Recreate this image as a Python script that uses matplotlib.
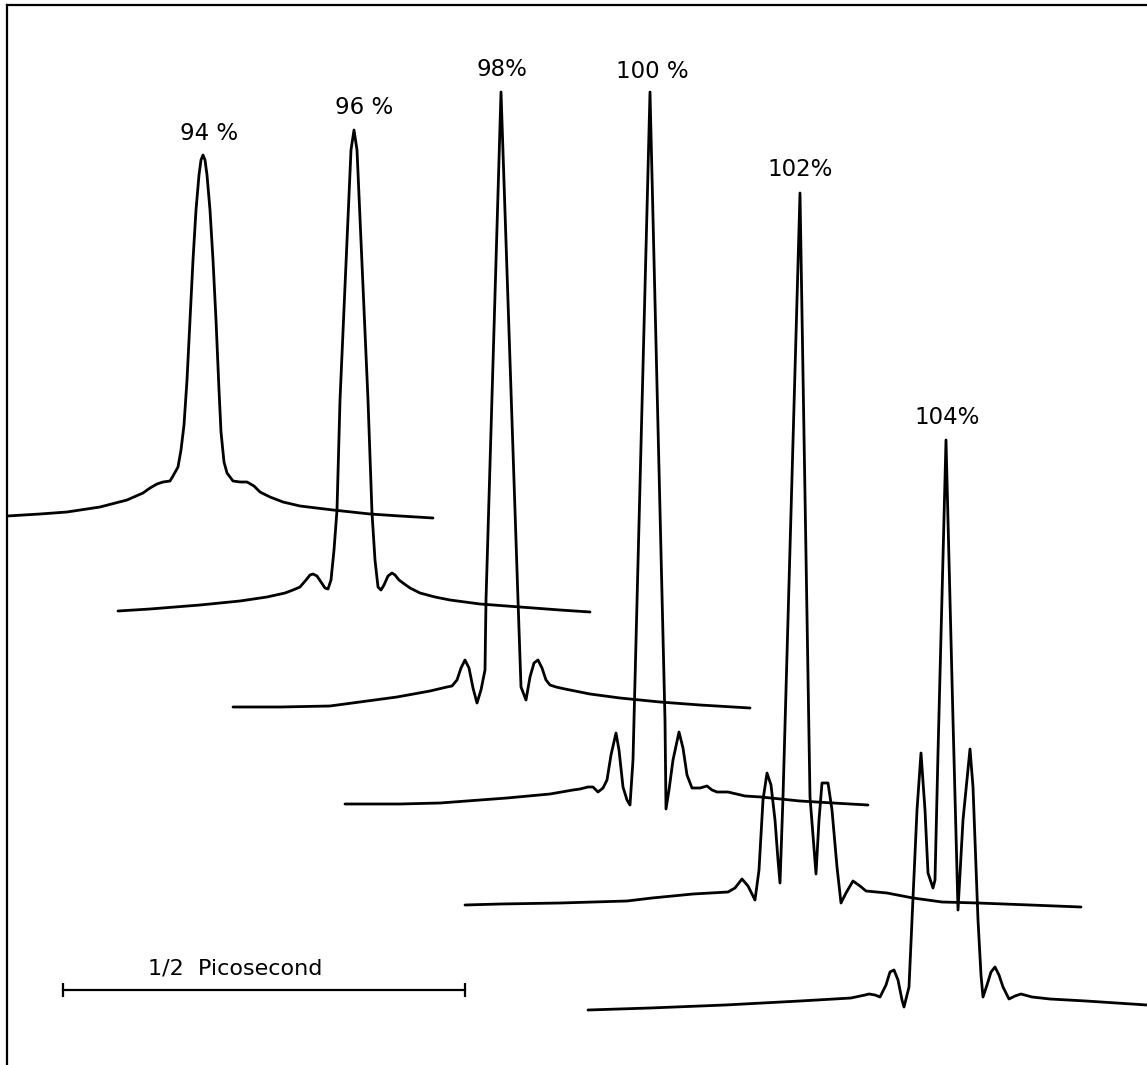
import matplotlib
matplotlib.use("Agg")
import matplotlib.pyplot as plt

# pulse traces (horizontal = time, vertical = offset intensity,
# same units as the picture, y grows downward)
labels = ["94 %", "96 %", "98%", "100 %", "102%", "104%"]
label_x = [209, 364, 502, 652, 800, 947]
label_y = [133, 108, 70, 72, 170, 418]

x94 = [7, 40, 67, 100, 127, 143, 150, 157, 163, 170, 173, 178, 181, 184, 187, 190, 193, 196,
       199, 201, 203, 205, 207, 210, 213, 216, 219, 221, 224, 227, 233, 240, 247, 254, 260, 270,
       283, 300, 333, 370, 400, 433]
y94 = [516, 514, 512, 507, 500, 493, 488, 484, 482, 481, 476, 467, 450, 425, 380, 320, 260, 210,
       175, 160, 155, 160, 175, 210, 260, 320, 390, 432, 462, 473, 481, 482, 482, 486, 492, 497,
       502, 506, 510, 514, 516, 518]

x96 = [118, 150, 200, 240, 267, 285, 293, 300, 306, 310, 313, 317, 321, 325, 328, 331, 334, 337,
       340, 351, 354, 357, 368, 372, 375, 378, 381, 384, 388, 392, 395, 399, 403, 410, 420, 435,
       450, 480, 520, 560, 590]
y96 = [611, 609, 605, 601, 597, 593, 590, 587, 580, 575, 574, 576, 582, 588, 589, 580, 550, 510,
       400, 150, 130, 150, 400, 513, 560, 587, 590, 585, 576, 573, 575, 580, 583, 588, 593, 597,
       600, 604, 607, 610, 612]

x98 = [233, 280, 330, 397, 430, 447, 452, 457, 461, 465, 469, 473, 477, 481, 485, 486, 501, 518,
       521, 526, 530, 534, 538, 542, 546, 550, 556, 565, 590, 620, 660, 700, 750]
y98 = [707, 707, 706, 697, 691, 687, 686, 680, 668, 660, 668, 688, 703, 690, 670, 600, 92, 600,
       687, 700, 677, 663, 660, 668, 680, 685, 687, 689, 694, 698, 702, 705, 708]

x100 = [345, 400, 440, 507, 550, 573, 580, 588, 593, 598, 603, 607, 611, 616, 619, 623, 627, 630,
        633, 634, 650, 665, 666, 669, 673, 679, 683, 687, 692, 700, 707, 712, 717, 728, 745, 761,
        800, 833, 868]
y100 = [804, 804, 803, 798, 794, 790, 789, 787, 787, 792, 788, 780, 755, 733, 750, 787, 800, 805,
        760, 720, 92, 720, 809, 790, 760, 732, 748, 775, 788, 788, 786, 790, 792, 792, 796, 797,
        801, 803, 805]

x102 = [465, 500, 560, 627, 652, 693, 728, 735, 742, 748, 755, 759, 763, 767, 771, 775, 778, 780,
        783, 800, 810, 816, 819, 822, 828, 832, 837, 841, 846, 853, 860, 866, 887, 913, 942, 978,
        1030, 1081]
y102 = [905, 904, 903, 901, 898, 894, 892, 888, 879, 886, 900, 870, 800, 773, 785, 820, 860, 883,
        797, 193, 797, 874, 820, 783, 783, 810, 867, 903, 893, 881, 886, 891, 893, 898, 902, 903,
        905, 907]

x104 = [588, 650, 725, 800, 851, 865, 869, 875, 880, 886, 890, 894, 898, 902, 904, 909, 913, 917,
        921, 925, 928, 933, 935, 938, 946, 953, 958, 963, 970, 973, 978, 981, 983, 987, 991, 995,
        999, 1003, 1009, 1015, 1021, 1032, 1050, 1086, 1147]
y104 = [1010, 1008, 1005, 1001, 998, 995, 994, 995, 997, 985, 972, 970, 980, 1000, 1007, 987, 898,
        810, 753, 810, 873, 888, 880, 753, 440, 720, 910, 820, 749, 787, 920, 975, 997, 985, 972,
        967, 975, 987, 999, 996, 994, 997, 999, 1001, 1005]

traces = [(x94, y94), (x96, y96), (x98, y98), (x100, y100), (x102, y102), (x104, y104)]

# half-picosecond scale bar
bar_x = [63, 465]
bar_y = [990, 990]

fig = plt.figure(figsize=(11.47, 10.65), dpi=100)
ax = fig.add_axes([7 / 1147, 0, 1 - 7 / 1147, 1 - 5 / 1065])
ax.set_xlim(7, 1147)
ax.set_ylim(1065, 5)

for (xs, ys), lab, lx, ly in zip(traces, labels, label_x, label_y):
    ax.plot(xs, ys, color='black', lw=2.0, solid_joinstyle='round', solid_capstyle='round')
    ax.text(lx, ly, lab, ha='center', va='center', fontsize=16.5, color='black')

ax.plot(bar_x, bar_y, color='black', lw=1.6)
ax.plot(bar_x, bar_y, ls='none', marker='|', ms=10, mew=1.6, color='black')
ax.text(148, 968, "1/2  Picosecond", ha='left', va='center', fontsize=16, color='black')

ax.set_xticks([])
ax.set_yticks([])
ax.spines['bottom'].set_visible(False)
ax.spines['left'].set_linewidth(1.6)
ax.spines['top'].set_linewidth(1.6)
ax.spines['right'].set_linewidth(0.8)
ax.spines['right'].set_color('#cccccc')

fig.savefig('out.png', dpi=100, facecolor='white')
